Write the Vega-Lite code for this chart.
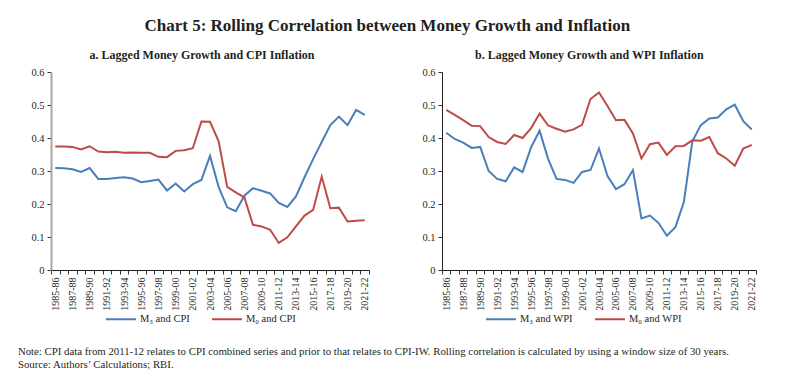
{
  "$schema": "https://vega.github.io/schema/vega-lite/v6.json",
  "padding": {"left": 17, "top": 17, "right": 5, "bottom": 5},
  "background": "white",
  "config": {
    "font": "Liberation Serif",
    "view": {"stroke": null},
    "axis": {"grid": false, "labelFont": "Liberation Serif", "labelColor": "#231F20", "tickColor": "#333333", "domainColor": "#333333", "labelFontSize": 10},
    "legend": {"title": null, "symbolType": "stroke", "symbolSize": 900, "symbolStrokeWidth": 2, "labelFont": "Liberation Serif", "labelFontSize": 10.5, "labelColor": "#231F20", "columnPadding": 18, "labelOffset": 3},
    "title": {"font": "Liberation Serif", "color": "#231F20"}
  },
  "datasets": {
    "cpi": [
      {"year": "1985-86", "series": "M₃ and CPI", "value": 0.309},
      {"year": "1986-87", "series": "M₃ and CPI", "value": 0.308},
      {"year": "1987-88", "series": "M₃ and CPI", "value": 0.305},
      {"year": "1988-89", "series": "M₃ and CPI", "value": 0.297},
      {"year": "1989-90", "series": "M₃ and CPI", "value": 0.309},
      {"year": "1990-91", "series": "M₃ and CPI", "value": 0.276},
      {"year": "1991-92", "series": "M₃ and CPI", "value": 0.276},
      {"year": "1992-93", "series": "M₃ and CPI", "value": 0.279},
      {"year": "1993-94", "series": "M₃ and CPI", "value": 0.281},
      {"year": "1994-95", "series": "M₃ and CPI", "value": 0.277},
      {"year": "1995-96", "series": "M₃ and CPI", "value": 0.266},
      {"year": "1996-97", "series": "M₃ and CPI", "value": 0.270},
      {"year": "1997-98", "series": "M₃ and CPI", "value": 0.274},
      {"year": "1998-99", "series": "M₃ and CPI", "value": 0.241},
      {"year": "1999-00", "series": "M₃ and CPI", "value": 0.262},
      {"year": "2000-01", "series": "M₃ and CPI", "value": 0.238},
      {"year": "2001-02", "series": "M₃ and CPI", "value": 0.260},
      {"year": "2002-03", "series": "M₃ and CPI", "value": 0.273},
      {"year": "2003-04", "series": "M₃ and CPI", "value": 0.346},
      {"year": "2004-05", "series": "M₃ and CPI", "value": 0.252},
      {"year": "2005-06", "series": "M₃ and CPI", "value": 0.190},
      {"year": "2006-07", "series": "M₃ and CPI", "value": 0.178},
      {"year": "2007-08", "series": "M₃ and CPI", "value": 0.225},
      {"year": "2008-09", "series": "M₃ and CPI", "value": 0.248},
      {"year": "2009-10", "series": "M₃ and CPI", "value": 0.240},
      {"year": "2010-11", "series": "M₃ and CPI", "value": 0.232},
      {"year": "2011-12", "series": "M₃ and CPI", "value": 0.203},
      {"year": "2012-13", "series": "M₃ and CPI", "value": 0.191},
      {"year": "2013-14", "series": "M₃ and CPI", "value": 0.223},
      {"year": "2014-15", "series": "M₃ and CPI", "value": 0.281},
      {"year": "2015-16", "series": "M₃ and CPI", "value": 0.336},
      {"year": "2016-17", "series": "M₃ and CPI", "value": 0.388},
      {"year": "2017-18", "series": "M₃ and CPI", "value": 0.439},
      {"year": "2018-19", "series": "M₃ and CPI", "value": 0.465},
      {"year": "2019-20", "series": "M₃ and CPI", "value": 0.439},
      {"year": "2020-21", "series": "M₃ and CPI", "value": 0.485},
      {"year": "2021-22", "series": "M₃ and CPI", "value": 0.470},
      {"year": "1985-86", "series": "M₀ and CPI", "value": 0.374},
      {"year": "1986-87", "series": "M₀ and CPI", "value": 0.374},
      {"year": "1987-88", "series": "M₀ and CPI", "value": 0.373},
      {"year": "1988-89", "series": "M₀ and CPI", "value": 0.365},
      {"year": "1989-90", "series": "M₀ and CPI", "value": 0.375},
      {"year": "1990-91", "series": "M₀ and CPI", "value": 0.359},
      {"year": "1991-92", "series": "M₀ and CPI", "value": 0.357},
      {"year": "1992-93", "series": "M₀ and CPI", "value": 0.358},
      {"year": "1993-94", "series": "M₀ and CPI", "value": 0.355},
      {"year": "1994-95", "series": "M₀ and CPI", "value": 0.356},
      {"year": "1995-96", "series": "M₀ and CPI", "value": 0.355},
      {"year": "1996-97", "series": "M₀ and CPI", "value": 0.355},
      {"year": "1997-98", "series": "M₀ and CPI", "value": 0.343},
      {"year": "1998-99", "series": "M₀ and CPI", "value": 0.342},
      {"year": "1999-00", "series": "M₀ and CPI", "value": 0.361},
      {"year": "2000-01", "series": "M₀ and CPI", "value": 0.363},
      {"year": "2001-02", "series": "M₀ and CPI", "value": 0.369},
      {"year": "2002-03", "series": "M₀ and CPI", "value": 0.450},
      {"year": "2003-04", "series": "M₀ and CPI", "value": 0.449},
      {"year": "2004-05", "series": "M₀ and CPI", "value": 0.391},
      {"year": "2005-06", "series": "M₀ and CPI", "value": 0.252},
      {"year": "2006-07", "series": "M₀ and CPI", "value": 0.235},
      {"year": "2007-08", "series": "M₀ and CPI", "value": 0.220},
      {"year": "2008-09", "series": "M₀ and CPI", "value": 0.137},
      {"year": "2009-10", "series": "M₀ and CPI", "value": 0.132},
      {"year": "2010-11", "series": "M₀ and CPI", "value": 0.122},
      {"year": "2011-12", "series": "M₀ and CPI", "value": 0.082},
      {"year": "2012-13", "series": "M₀ and CPI", "value": 0.099},
      {"year": "2013-14", "series": "M₀ and CPI", "value": 0.132},
      {"year": "2014-15", "series": "M₀ and CPI", "value": 0.165},
      {"year": "2015-16", "series": "M₀ and CPI", "value": 0.182},
      {"year": "2016-17", "series": "M₀ and CPI", "value": 0.283},
      {"year": "2017-18", "series": "M₀ and CPI", "value": 0.187},
      {"year": "2018-19", "series": "M₀ and CPI", "value": 0.189},
      {"year": "2019-20", "series": "M₀ and CPI", "value": 0.147},
      {"year": "2020-21", "series": "M₀ and CPI", "value": 0.149},
      {"year": "2021-22", "series": "M₀ and CPI", "value": 0.151}
    ],
    "wpi": [
      {"year": "1985-86", "series": "M₃ and WPI", "value": 0.416},
      {"year": "1986-87", "series": "M₃ and WPI", "value": 0.397},
      {"year": "1987-88", "series": "M₃ and WPI", "value": 0.386},
      {"year": "1988-89", "series": "M₃ and WPI", "value": 0.370},
      {"year": "1989-90", "series": "M₃ and WPI", "value": 0.373},
      {"year": "1990-91", "series": "M₃ and WPI", "value": 0.300},
      {"year": "1991-92", "series": "M₃ and WPI", "value": 0.276},
      {"year": "1992-93", "series": "M₃ and WPI", "value": 0.269},
      {"year": "1993-94", "series": "M₃ and WPI", "value": 0.311},
      {"year": "1994-95", "series": "M₃ and WPI", "value": 0.297},
      {"year": "1995-96", "series": "M₃ and WPI", "value": 0.372},
      {"year": "1996-97", "series": "M₃ and WPI", "value": 0.422},
      {"year": "1997-98", "series": "M₃ and WPI", "value": 0.337},
      {"year": "1998-99", "series": "M₃ and WPI", "value": 0.276},
      {"year": "1999-00", "series": "M₃ and WPI", "value": 0.273},
      {"year": "2000-01", "series": "M₃ and WPI", "value": 0.264},
      {"year": "2001-02", "series": "M₃ and WPI", "value": 0.297},
      {"year": "2002-03", "series": "M₃ and WPI", "value": 0.303},
      {"year": "2003-04", "series": "M₃ and WPI", "value": 0.368},
      {"year": "2004-05", "series": "M₃ and WPI", "value": 0.285},
      {"year": "2005-06", "series": "M₃ and WPI", "value": 0.245},
      {"year": "2006-07", "series": "M₃ and WPI", "value": 0.260},
      {"year": "2007-08", "series": "M₃ and WPI", "value": 0.303},
      {"year": "2008-09", "series": "M₃ and WPI", "value": 0.156},
      {"year": "2009-10", "series": "M₃ and WPI", "value": 0.165},
      {"year": "2010-11", "series": "M₃ and WPI", "value": 0.143},
      {"year": "2011-12", "series": "M₃ and WPI", "value": 0.104},
      {"year": "2012-13", "series": "M₃ and WPI", "value": 0.130},
      {"year": "2013-14", "series": "M₃ and WPI", "value": 0.206},
      {"year": "2014-15", "series": "M₃ and WPI", "value": 0.390},
      {"year": "2015-16", "series": "M₃ and WPI", "value": 0.439},
      {"year": "2016-17", "series": "M₃ and WPI", "value": 0.459},
      {"year": "2017-18", "series": "M₃ and WPI", "value": 0.462},
      {"year": "2018-19", "series": "M₃ and WPI", "value": 0.487},
      {"year": "2019-20", "series": "M₃ and WPI", "value": 0.501},
      {"year": "2020-21", "series": "M₃ and WPI", "value": 0.451},
      {"year": "2021-22", "series": "M₃ and WPI", "value": 0.426},
      {"year": "1985-86", "series": "M₀ and WPI", "value": 0.485},
      {"year": "1986-87", "series": "M₀ and WPI", "value": 0.470},
      {"year": "1987-88", "series": "M₀ and WPI", "value": 0.454},
      {"year": "1988-89", "series": "M₀ and WPI", "value": 0.437},
      {"year": "1989-90", "series": "M₀ and WPI", "value": 0.436},
      {"year": "1990-91", "series": "M₀ and WPI", "value": 0.403},
      {"year": "1991-92", "series": "M₀ and WPI", "value": 0.388},
      {"year": "1992-93", "series": "M₀ and WPI", "value": 0.382},
      {"year": "1993-94", "series": "M₀ and WPI", "value": 0.409},
      {"year": "1994-95", "series": "M₀ and WPI", "value": 0.400},
      {"year": "1995-96", "series": "M₀ and WPI", "value": 0.430},
      {"year": "1996-97", "series": "M₀ and WPI", "value": 0.474},
      {"year": "1997-98", "series": "M₀ and WPI", "value": 0.438},
      {"year": "1998-99", "series": "M₀ and WPI", "value": 0.428},
      {"year": "1999-00", "series": "M₀ and WPI", "value": 0.419},
      {"year": "2000-01", "series": "M₀ and WPI", "value": 0.426},
      {"year": "2001-02", "series": "M₀ and WPI", "value": 0.440},
      {"year": "2002-03", "series": "M₀ and WPI", "value": 0.518},
      {"year": "2003-04", "series": "M₀ and WPI", "value": 0.538},
      {"year": "2004-05", "series": "M₀ and WPI", "value": 0.497},
      {"year": "2005-06", "series": "M₀ and WPI", "value": 0.454},
      {"year": "2006-07", "series": "M₀ and WPI", "value": 0.455},
      {"year": "2007-08", "series": "M₀ and WPI", "value": 0.414},
      {"year": "2008-09", "series": "M₀ and WPI", "value": 0.338},
      {"year": "2009-10", "series": "M₀ and WPI", "value": 0.381},
      {"year": "2010-11", "series": "M₀ and WPI", "value": 0.386},
      {"year": "2011-12", "series": "M₀ and WPI", "value": 0.349},
      {"year": "2012-13", "series": "M₀ and WPI", "value": 0.375},
      {"year": "2013-14", "series": "M₀ and WPI", "value": 0.376},
      {"year": "2014-15", "series": "M₀ and WPI", "value": 0.393},
      {"year": "2015-16", "series": "M₀ and WPI", "value": 0.392},
      {"year": "2016-17", "series": "M₀ and WPI", "value": 0.403},
      {"year": "2017-18", "series": "M₀ and WPI", "value": 0.354},
      {"year": "2018-19", "series": "M₀ and WPI", "value": 0.338},
      {"year": "2019-20", "series": "M₀ and WPI", "value": 0.316},
      {"year": "2020-21", "series": "M₀ and WPI", "value": 0.368},
      {"year": "2021-22", "series": "M₀ and WPI", "value": 0.379}
    ]
  },
  "title": {"text": "Chart 5: Rolling Correlation between Money Growth and Inflation", "fontSize": 17, "fontWeight": "bold", "anchor": "middle", "offset": 14},
  "vconcat": [
    {
      "title": {"text": ["Note: CPI data from 2011-12 relates to CPI combined series and prior to that relates to CPI-IW. Rolling correlation is calculated by using a window size of 30 years.", "Source: Authors’ Calculations; RBI."], "orient": "bottom", "anchor": "start", "fontSize": 10.8, "fontWeight": "normal", "offset": 21, "lineHeight": 13.3},
      "spacing": 51,
      "resolve": {"scale": {"color": "independent"}, "legend": {"color": "independent"}},
      "hconcat": [
        {
          "width": 318,
          "height": 198,
          "title": {"text": "a. Lagged Money Growth and CPI Inflation", "frame": "group", "anchor": "middle", "fontSize": 12, "fontWeight": "bold", "offset": 5, "dx": -8},
          "data": {"name": "cpi"},
          "mark": {"type": "line", "strokeWidth": 2},
          "encoding": {
            "x": {"field": "year", "type": "ordinal", "title": null, "scale": {"type": "band", "paddingInner": 0, "paddingOuter": 0},
                  "axis": {"tickBand": "extent", "labelAngle": -90, "labelOverlap": false, "tickSize": 4, "labelPadding": 3, "domainColor": "#231F20",
                           "labelExpr": "toNumber(substring(datum.value, 0, 4)) % 2 == 1 ? datum.value : ''"}},
            "y": {"field": "value", "type": "quantitative", "title": ".", "scale": {"domain": [0, 0.6]},
                  "axis": {"values": [0, 0.1, 0.2, 0.3, 0.4, 0.5, 0.6], "labelExpr": "datum.value == 0 ? '0' : format(datum.value, '.1f')", "domainColor": "#A6A6A6", "domainWidth": 2, "tickSize": 4, "labelPadding": 3, "labelFontSize": 10.5, "titleFontSize": 6, "titlePadding": 7, "titleColor": "#FFFFFF"}},
            "color": {"field": "series", "type": "nominal", "scale": {"domain": ["M₃ and CPI", "M₀ and CPI"], "range": ["#4A7EBB", "#BE4B48"]},
                      "legend": {"orient": "none", "direction": "horizontal", "legendX": 54, "legendY": 231}}
          }
        },
        {
          "width": 314,
          "height": 198,
          "title": {"text": "b. Lagged Money Growth and WPI Inflation", "frame": "bounds", "anchor": "middle", "fontSize": 12, "fontWeight": "bold", "offset": 5},
          "data": {"name": "wpi"},
          "mark": {"type": "line", "strokeWidth": 2},
          "encoding": {
            "x": {"field": "year", "type": "ordinal", "title": null, "scale": {"type": "band", "paddingInner": 0, "paddingOuter": 0},
                  "axis": {"tickBand": "extent", "labelAngle": -90, "labelOverlap": false, "tickSize": 4, "labelPadding": 3, "domainColor": "#231F20",
                           "labelExpr": "toNumber(substring(datum.value, 0, 4)) % 2 == 1 ? datum.value : ''"}},
            "y": {"field": "value", "type": "quantitative", "title": null, "scale": {"domain": [0, 0.6]},
                  "axis": {"values": [0, 0.1, 0.2, 0.3, 0.4, 0.5, 0.6], "labelExpr": "datum.value == 0 ? '0' : format(datum.value, '.1f')", "domainColor": "#231F20", "domainWidth": 1, "tickSize": 4, "labelPadding": 3, "labelFontSize": 10.5}},
            "color": {"field": "series", "type": "nominal", "scale": {"domain": ["M₃ and WPI", "M₀ and WPI"], "range": ["#4A7EBB", "#BE4B48"]},
                      "legend": {"orient": "none", "direction": "horizontal", "legendX": 43, "legendY": 231}}
          }
        }
      ]
    }
  ]
}
